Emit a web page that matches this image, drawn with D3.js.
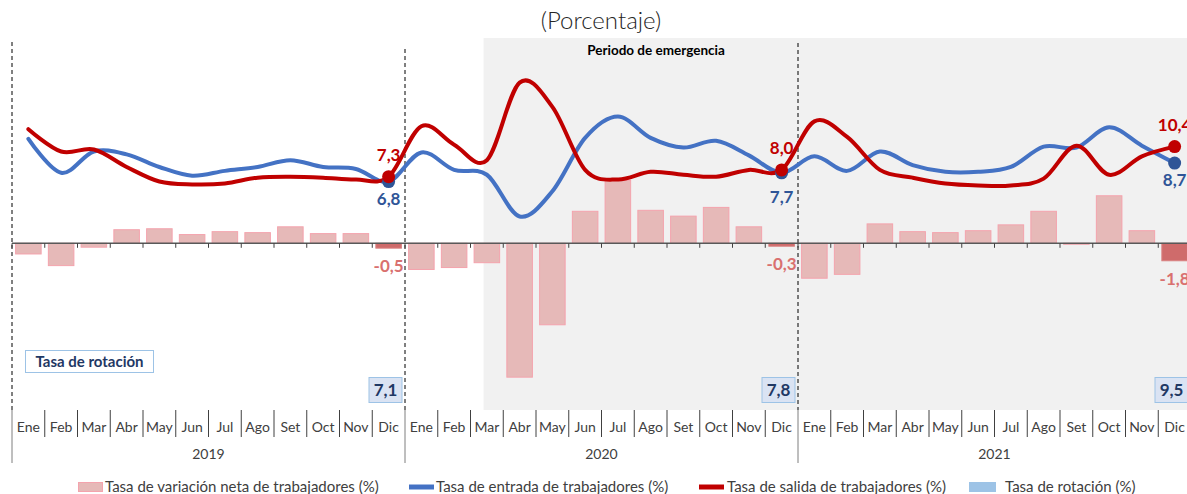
<!DOCTYPE html>
<html>
<head>
<meta charset="utf-8">
<script src="https://cdn.jsdelivr.net/npm/d3@7"></script>
<style>
  html, body { margin: 0; padding: 0; background: #fff; overflow: hidden; }
  svg { display: block; font-family: Lato, "Open Sans", sans-serif; }
</style>
</head>
<body>
<svg id="chart" width="1187" height="494"></svg>
<script>
// ---- Datos ----
const meses = ["Ene", "Feb", "Mar", "Abr", "May", "Jun", "Jul", "Ago", "Set", "Oct", "Nov", "Dic"];
const anios = ["2019", "2020", "2021"];

// Tasa de variación neta de trabajadores (%)
const tasaVariacionNeta = [
  -1.1, -2.3, -0.4, 1.4, 1.5, 0.9, 1.2, 1.1, 1.7, 1.0, 1.0, -0.5,
  -2.7, -2.5, -2.0, -13.8, -8.4, 3.3, 6.5, 3.4, 2.8, 3.7, 1.7, -0.3,
  -3.6, -3.2, 2.0, 1.2, 1.1, 1.3, 1.9, 3.3, -0.1, 4.9, 1.3, -1.8
];

// Tasa de entrada de trabajadores (%)
const tasaEntrada = [
  11.2, 7.7, 9.9, 9.6, 8.3, 7.4, 7.9, 8.3, 9.0, 8.3, 8.1, 6.8,
  9.8, 8.0, 7.5, 3.2, 5.8, 11.3, 13.5, 11.3, 10.3, 11.0, 9.5, 7.7,
  9.4, 7.9, 9.9, 8.5, 7.8, 7.8, 8.3, 10.4, 10.3, 12.4, 10.5, 8.7
];

// Tasa de salida de trabajadores (%)
const tasaSalida = [
  12.2, 9.9, 10.1, 8.3, 6.8, 6.5, 6.6, 7.2, 7.3, 7.2, 7.0, 7.3,
  12.5, 10.6, 9.0, 17.0, 14.5, 8.0, 7.0, 7.8, 7.5, 7.3, 8.0, 8.0,
  13.0, 11.4, 8.0, 7.2, 6.6, 6.4, 6.4, 7.1, 10.5, 7.5, 9.4, 10.4
];

// Tasa de rotación (%) a diciembre de cada año
const tasaRotacion = [7.1, 7.8, 9.5];

const leyenda = [
  "Tasa de variación neta de trabajadores (%)",
  "Tasa de entrada de trabajadores (%)",
  "Tasa de salida de trabajadores (%)",
  "Tasa de rotación (%)"
];

const subtitulo = "(Porcentaje)";
const textoEmergencia = "Periodo de emergencia";
const textoRotacion = "Tasa de rotación";

// ---- Formato ----
const fmt = v => d3.format(".1f")(v).replace(".", ",").replace("−", "-");

const svg = d3.select("#chart");
const periodos = anios.flatMap(a => meses.map(m => a + "-" + m));

const x = d3.scaleBand()
  .domain(periodos)
  .range([12, 1191])
  .paddingInner(0.22)
  .paddingOuter(0.11);
const step = x.step();
const x0 = 12;
const borde = i => x0 + i * step;               // límite entre meses
const cx = i => x(periodos[i]) + x.bandwidth() / 2;

const yBar = d3.scaleLinear().domain([-15, 15]).range([388.8, 97.8]);
const yLine = d3.scaleLinear().domain([0, 20]).range([247.5, 53.5]);

const plotTop = 38, plotBottom = 410;

// Sombreado del periodo de emergencia (desde mediados de marzo 2020)
const inicioEmergencia = borde(periodos.indexOf("2020-Mar")) + 0.4 * step;
svg.append("rect")
  .attr("x", inicioEmergencia).attr("y", plotTop)
  .attr("width", 1200 - inicioEmergencia).attr("height", plotBottom - plotTop)
  .attr("fill", "#f1f1f1");

svg.append("text")
  .attr("x", 656).attr("y", 55)
  .attr("text-anchor", "middle")
  .attr("font-size", 13.5).attr("font-weight", 700).attr("fill", "#000")
  .text(textoEmergencia);

// Subtítulo
svg.append("text")
  .attr("x", 601).attr("y", 29)
  .attr("text-anchor", "middle")
  .attr("font-size", 24).attr("font-weight", 300).attr("fill", "#262626")
  .text(subtitulo);

// Separadores de año (discontinuos)
const topesSep = [42, 49, 43];
anios.forEach((a, k) => {
  svg.append("line")
    .attr("x1", borde(k * 12)).attr("x2", borde(k * 12))
    .attr("y1", topesSep[k]).attr("y2", plotBottom)
    .attr("stroke", "#000").attr("stroke-width", 1)
    .attr("stroke-dasharray", "4,3");
});

// Barras
svg.append("g").selectAll("rect")
  .data(tasaVariacionNeta)
  .join("rect")
  .attr("x", (d, i) => x(periodos[i]))
  .attr("width", x.bandwidth())
  .attr("y", d => Math.min(yBar(d), yBar(0)))
  .attr("height", d => Math.abs(yBar(d) - yBar(0)))
  .attr("fill", (d, i) => (i % 12 === 11) ? "#cf6b6b" : "#e6b9b8")
  .attr("stroke", (d, i) => (i % 12 === 11) ? "#d98080" : "#f4a3ad")
  .attr("stroke-width", 1);

// Eje cero con marcas
const y0 = yBar(0);
svg.append("line")
  .attr("x1", 12).attr("x2", 1191).attr("y1", y0).attr("y2", y0)
  .attr("stroke", "#595959").attr("stroke-width", 1.5);
svg.append("g").selectAll("line")
  .data(d3.range(periodos.length + 1))
  .join("line")
  .attr("x1", borde).attr("x2", borde)
  .attr("y1", y0).attr("y2", y0 + 4.5)
  .attr("stroke", "#404040").attr("stroke-width", 1);

// Líneas
const linea = d3.line()
  .x((d, i) => cx(i))
  .y(d => yLine(d))
  .curve(d3.curveCardinal);

svg.append("path").datum(tasaEntrada)
  .attr("d", linea).attr("fill", "none")
  .attr("stroke", "#4472c4").attr("stroke-width", 4)
  .attr("stroke-linecap", "round").attr("stroke-linejoin", "round");
svg.append("path").datum(tasaSalida)
  .attr("d", linea).attr("fill", "none")
  .attr("stroke", "#c00000").attr("stroke-width", 4)
  .attr("stroke-linecap", "round").attr("stroke-linejoin", "round");

// Puntos y etiquetas de diciembre
const dic = anios.map((a, k) => k * 12 + 11);

svg.append("g").selectAll("circle")
  .data(dic).join("circle")
  .attr("cx", cx).attr("cy", i => yLine(tasaEntrada[i]))
  .attr("r", 6.5).attr("fill", "#2f5597");
svg.append("g").selectAll("circle")
  .data(dic).join("circle")
  .attr("cx", cx).attr("cy", i => yLine(tasaSalida[i]))
  .attr("r", 6.5).attr("fill", "#c00000");

const etiquetas = svg.append("g")
  .attr("font-size", 17).attr("font-weight", 700).attr("text-anchor", "middle");
etiquetas.selectAll("text.sal").data(dic).join("text")
  .attr("class", "sal")
  .attr("x", cx).attr("y", i => yLine(tasaSalida[i]) - 16)
  .attr("fill", "#c00000")
  .text(i => fmt(tasaSalida[i]));
etiquetas.selectAll("text.ent").data(dic).join("text")
  .attr("class", "ent")
  .attr("x", cx).attr("y", (i, k) => yLine(tasaEntrada[i]) + (k === 1 ? 30 : 23))
  .attr("fill", "#2f5597")
  .text(i => fmt(tasaEntrada[i]));
etiquetas.selectAll("text.var").data(dic).join("text")
  .attr("class", "var")
  .attr("x", cx).attr("y", i => yBar(tasaVariacionNeta[i]) + 24)
  .attr("fill", "#d9706f")
  .text(i => fmt(tasaVariacionNeta[i]));

// Recuadro "Tasa de rotación"
svg.append("rect")
  .attr("x", 25.5).attr("y", 350.5).attr("width", 128).attr("height", 22)
  .attr("fill", "#fff").attr("stroke", "#9dc3e6").attr("stroke-width", 1);
svg.append("text")
  .attr("x", 89.5).attr("y", 366.5)
  .attr("text-anchor", "middle")
  .attr("font-size", 15).attr("font-weight", 700).attr("fill", "#1f3864")
  .text(textoRotacion);

// Valores de la tasa de rotación
const rot = svg.append("g");
tasaRotacion.forEach((v, k) => {
  const xr = borde((k + 1) * 12) - 3;
  rot.append("rect")
    .attr("x", xr - 33).attr("y", 377.5).attr("width", 33).attr("height", 25)
    .attr("fill", "#dae3f3").attr("stroke", "#9dc3e6").attr("stroke-width", 1);
  rot.append("text")
    .attr("x", xr - 16.5).attr("y", 396)
    .attr("text-anchor", "middle")
    .attr("font-size", 17).attr("font-weight", 700).attr("fill", "#1f3864")
    .text(fmt(v));
});

// Eje de categorías (meses y años)
const eje = svg.append("g").attr("fill", "#404040").attr("font-size", 14);
eje.selectAll("text.mes").data(periodos).join("text")
  .attr("class", "mes")
  .attr("x", (d, i) => cx(i)).attr("y", 432)
  .attr("text-anchor", "middle")
  .text(d => d.split("-")[1]);
eje.selectAll("text.anio").data(anios).join("text")
  .attr("class", "anio")
  .attr("x", (d, k) => (borde(k * 12) + borde(k * 12 + 12)) / 2).attr("y", 459)
  .attr("text-anchor", "middle")
  .text(d => d);
svg.append("g").selectAll("line")
  .data(d3.range(periodos.length + 1))
  .join("line")
  .attr("x1", borde).attr("x2", borde)
  .attr("y1", 410)
  .attr("y2", i => (i % 12 === 0) ? 463 : 437)
  .attr("stroke", i => (i % 12 === 0) ? "#7f7f7f" : "#404040")
  .attr("stroke-width", 1);

// Leyenda
const ley = svg.append("g").attr("font-size", 15).attr("fill", "#404040");
ley.append("rect").attr("x", 78.5).attr("y", 482.5).attr("width", 24).attr("height", 9)
  .attr("fill", "#e6b9b8").attr("stroke", "#f4a3ad");
ley.append("text").attr("x", 105).attr("y", 492).text(leyenda[0]);
ley.append("line").attr("x1", 409).attr("x2", 434).attr("y1", 487).attr("y2", 487)
  .attr("stroke", "#4472c4").attr("stroke-width", 5);
ley.append("text").attr("x", 436).attr("y", 492).text(leyenda[1]);
ley.append("line").attr("x1", 699).attr("x2", 724).attr("y1", 487).attr("y2", 487)
  .attr("stroke", "#c00000").attr("stroke-width", 5);
ley.append("text").attr("x", 727).attr("y", 492).text(leyenda[2]);
ley.append("rect").attr("x", 969).attr("y", 482).attr("width", 27).attr("height", 10)
  .attr("fill", "#9dc3e6");
ley.append("text").attr("x", 1005).attr("y", 492).text(leyenda[3]);
</script>
</body>
</html>
